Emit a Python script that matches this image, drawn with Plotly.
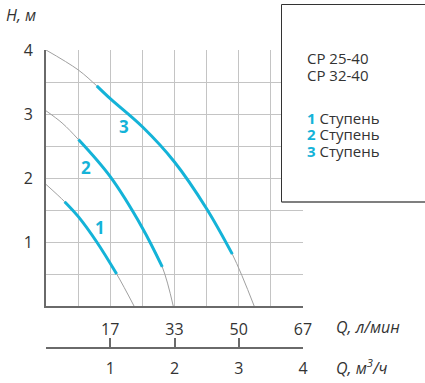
import plotly.graph_objects as go

# pump curves, Q in m3/h, H in m
stage1_q = [0, 0.29, 0.5, 0.79, 1.10, 1.37]
stage1_h = [1.9, 1.63, 1.40, 1.0, 0.5, 0]
stage1_work_q = [0.29, 0.5, 0.79, 1.10]
stage1_work_h = [1.63, 1.40, 1.0, 0.5]

stage2_q = [0, 0.25, 0.505, 1.0, 1.5, 1.81, 1.98]
stage2_h = [3.05, 2.86, 2.6, 2.02, 1.22, 0.61, 0]
stage2_work_q = [0.505, 1.0, 1.5, 1.81]
stage2_work_h = [2.6, 2.02, 1.22, 0.61]

stage3_q = [0, 0.5, 0.79, 1.0, 1.5, 2.0, 2.5, 2.9, 3.24]
stage3_h = [4.0, 3.69, 3.44, 3.24, 2.80, 2.25, 1.52, 0.81, 0]
stage3_work_q = [0.79, 1.0, 1.5, 2.0, 2.5, 2.9]
stage3_work_h = [3.44, 3.24, 2.80, 2.25, 1.52, 0.81]

q_m3h_ticks = [1, 2, 3, 4]
q_lmin_labels = ["17", "33", "50", "67"]
h_ticks = [1, 2, 3, 4]
models = ["CP 25-40", "CP 32-40"]
stages = ["1", "2", "3"]

CYAN = "#14b3d8"
GREY = "#a0a0a0"
GRID = "#c4c4c4"
AXIS = "#6a6a6a"
TXT = "#333333"
FONT = "Open Sans"

W, H = 425, 383
L, R, T, B = 46, 303, 50, 306  # plot box in pixels


def px(x):
    return (x - L) / (R - L)


def py(y):
    return (H - y) / (H - T)


def label(x, y, text, size=16):
    fig.add_annotation(xref="paper", yref="paper", x=px(x), y=py(y), text=text,
                       showarrow=False, xanchor="left", yanchor="middle",
                       font=dict(color=TXT, size=size, family=FONT))


def pline(x0, y0, x1, y1, color="#333333", width=1):
    fig.add_shape(type="line", xref="paper", yref="paper",
                  x0=px(x0), y0=py(y0), x1=px(x1), y1=py(y1),
                  line=dict(color=color, width=width), layer="above")


fig = go.Figure()

curves = [(stage1_q, stage1_h, stage1_work_q, stage1_work_h),
          (stage2_q, stage2_h, stage2_work_q, stage2_work_h),
          (stage3_q, stage3_h, stage3_work_q, stage3_work_h)]
for q, h, wq, wh in curves:
    fig.add_trace(go.Scatter(x=q, y=h, mode="lines",
                             line=dict(color=GREY, width=1, shape="spline"),
                             showlegend=False, hoverinfo="skip"))
    fig.add_trace(go.Scatter(x=wq, y=wh, mode="lines",
                             line=dict(color=CYAN, width=3, shape="spline"),
                             showlegend=False))

# dummy trace so the m3/h axis gets drawn
fig.add_trace(go.Scatter(x=[0, 4], y=[None, None], xaxis="x2", yaxis="y",
                         showlegend=False, hoverinfo="skip"))

# stage numbers next to curves
for s, (xq, yh) in zip(stages, [(0.84, 1.23), (0.625, 2.17), (1.22, 2.8)]):
    fig.add_annotation(x=xq, y=yh, text="<b>%s</b>" % s, showarrow=False,
                       font=dict(color=CYAN, size=17, family=FONT))

# legend box, open on the right side
fig.add_shape(type="rect", xref="paper", yref="paper",
              x0=px(281.5), x1=px(460), y0=py(202), y1=py(4.5),
              line=dict(width=0), fillcolor="white", layer="above")
pline(281.5, 4.5, 430, 4.5)
pline(281.5, 4.5, 281.5, 202)
pline(281.5, 202, 430, 202, "#555555", 1.6)
for i, m in enumerate(models):
    label(305, 58 + 17 * i, m, 15)
for i, s in enumerate(stages):
    label(305, 117.5 + 16.5 * i,
          "<b><span style='color:%s'>%s</span></b> Ступень" % (CYAN, s), 15)

# axis titles
label(4, 15, "<i>H, м</i>")
label(334, 327, "<i>Q, л/мин</i>")
label(334, 367, "<i>Q, м<sup>3</sup>/ч</i>")

fig.update_layout(
    width=W, height=H,
    margin=dict(l=L, r=W - R, t=T, b=0),
    plot_bgcolor="white", paper_bgcolor="white",
    font=dict(family=FONT, color=TXT, size=16),
    xaxis=dict(range=[0, 4], tickvals=q_m3h_ticks, ticktext=q_lmin_labels,
               showgrid=True, gridcolor=GRID, gridwidth=1,
               minor=dict(dtick=0.5, showgrid=True, gridcolor=GRID, gridwidth=1),
               showline=True, linecolor=AXIS, linewidth=2,
               ticks="", ticklabelstandoff=8, zeroline=False, fixedrange=True),
    xaxis2=dict(range=[0, 4], overlaying="x", anchor="free", position=py(348), side="bottom",
                tickvals=[0] + q_m3h_ticks, ticktext=[""] + [str(v) for v in q_m3h_ticks],
                showgrid=False, showline=True, linecolor=AXIS, linewidth=2,
                ticks="inside", ticklen=9, tickwidth=2, tickcolor=AXIS,
                ticklabelstandoff=6, zeroline=False, fixedrange=True),
    yaxis=dict(range=[0, 4], domain=[py(B), 1], tickvals=h_ticks,
               showgrid=True, gridcolor=GRID, gridwidth=1,
               minor=dict(dtick=0.5, showgrid=True, gridcolor=GRID, gridwidth=1),
               showline=True, linecolor=AXIS, linewidth=2,
               ticks="", ticklabelstandoff=8, zeroline=False, fixedrange=True),
)

fig.write_html("out.html", config={"displayModeBar": False},
               post_script="document.body.style.margin='0px';")
